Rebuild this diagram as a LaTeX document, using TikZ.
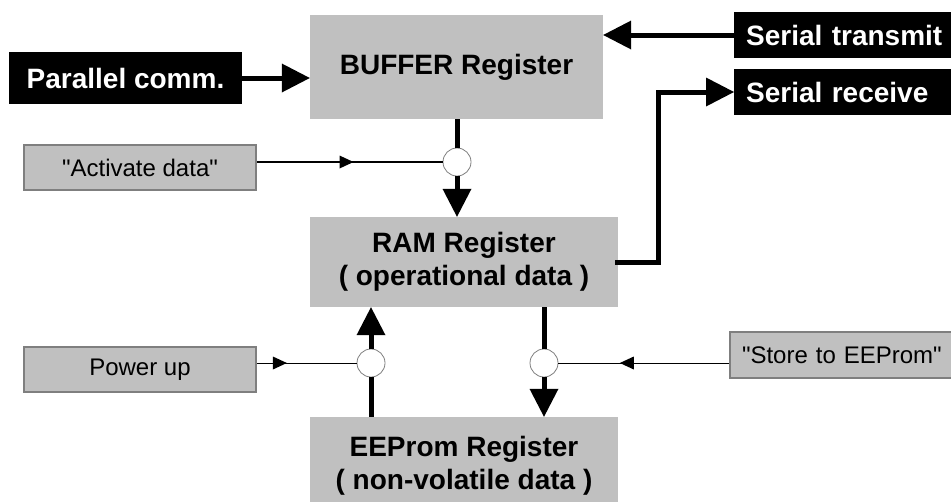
\documentclass[tikz,border=0pt]{standalone}
\usepackage{fontspec}
\setmainfont{Liberation Sans}
\usetikzlibrary{arrows.meta,decorations.markings}
\definecolor{regfill}{HTML}{C0C0C0}
\definecolor{cmdedge}{HTML}{7F7F7F}

\begin{document}
\begin{tikzpicture}[x=1pt, y=-1pt,
	regnode/.style={rectangle, fill=regfill, align=center, inner sep=0pt, font=\fontsize{28}{33}\selectfont\bfseries},
	commnode/.style={rectangle, fill=black, text=white, minimum height=46pt, inner sep=0pt, font=\fontsize{28}{33}\selectfont\bfseries},
	cmdnode/.style={rectangle, fill=regfill, draw=cmdedge, line width=2pt, inner sep=0pt, font=\fontsize{24}{28}\selectfont},
	gatenode/.style={circle, fill=white, draw=cmdedge, line width=0.8pt, minimum size=28pt, inner sep=0pt},
	bigline/.style={line width=5pt},
	bigarrow/.style={line width=5pt, -{Triangle[length=28pt, width=29pt, line width=0pt]}},
	cmdline/.style={line width=1.6pt, postaction={decorate}, decoration={markings, mark=at position #1 with {\arrow{Triangle[length=14pt, width=13pt, line width=0pt]}}}},
	]
	\useasboundingbox (0,0) rectangle (951,501);
	
	%Nodes
	\node[regnode, minimum width=293pt, minimum height=104pt]	(buf)	at (456.5,67)	{BUFFER Register};
	\node[regnode, minimum width=308pt, minimum height=90pt]	(ram)	at (464,262)	{RAM Register\\( operational data )};
	\node[regnode, minimum width=308pt, minimum height=98pt]	(eep)	at (464,466)	{EEProm Register\\( non-volatile data )};
	\node[commnode, minimum width=233pt, minimum height=52pt]	(ptx)	at (125.5,78)	{Parallel comm.};
	\node[commnode, anchor=west, text width=215pt, inner xsep=12pt]	(stx)	at (734,35)	{Serial transmit};
	\node[commnode, anchor=west, text width=215pt, inner xsep=12pt]	(srx)	at (734,92)	{Serial receive};
	\node[cmdnode, minimum width=232pt, minimum height=45pt]	(act)	at (140,167.5)	{\textquotedbl Activate data\textquotedbl};
	\node[cmdnode, minimum width=232pt, minimum height=45pt]	(pwr)	at (140,369.5)	{Power up};
	\node[cmdnode, anchor=west, text width=220pt, inner xsep=12pt, minimum height=46pt]	(sto)	at (729,355)	{\textquotedbl Store to EEProm\textquotedbl};
	\node[gatenode]	(g1)	at (457,162)	{};
	\node[gatenode]	(g2)	at (371,363)	{};
	\node[gatenode]	(g3)	at (544,363)	{};
	
	%Lines
	\draw[bigarrow] (ptx.east) -- (ptx.east -| buf.west);
	\draw[bigarrow] (stx.west) -- (stx.west -| buf.east);
	\draw[bigarrow] ([xshift=-3pt]ram.east) -- ++(43,0) |- (srx.west);
	\draw[bigline] (g1 |- buf.south) -- (g1.north);
	\draw[bigarrow] (g1.south) -- (g1 |- ram.north);
	\draw[bigline] (g2 |- eep.north) -- (g2.south);
	\draw[bigarrow] (g2.north) -- (g2 |- ram.south);
	\draw[bigline] (g3 |- ram.south) -- (g3.north);
	\draw[bigarrow] (g3.south) -- (g3 |- eep.north);
	\draw[cmdline=0.52] (g1 -| act.east) -- (g1.west);
	\draw[cmdline=0.3, line width=1pt] (g2 -| pwr.east) -- (g2.west);
	\draw[cmdline=0.64, line width=1pt] (g3 -| sto.west) -- (g3.east);
	
\end{tikzpicture}
\end{document}
